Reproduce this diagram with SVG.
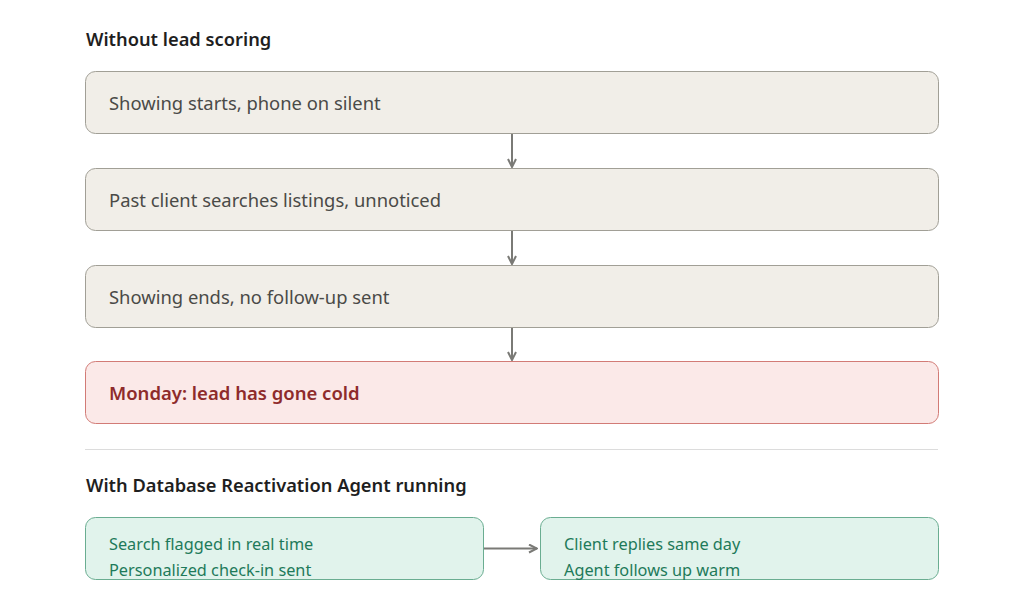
<svg xmlns="http://www.w3.org/2000/svg" width="1024" height="597" viewBox="0 0 1024 597">
<style>
.h{font-family:"Segoe UI","Noto Sans","Liberation Sans",sans-serif;font-size:18.3px;font-weight:600;fill:#1f1f1f}
.b{fill:#f1eee8;stroke:#a19f96;stroke-width:1}
.bt{font-family:"Segoe UI","Noto Sans","Liberation Sans",sans-serif;font-size:18.4px;fill:#4a4a47}
.r{fill:#fbe9e8;stroke:#d27b76;stroke-width:1}
.rt{font-family:"Segoe UI","Noto Sans","Liberation Sans",sans-serif;font-size:18.5px;font-weight:600;fill:#8e2b2b}
.g{fill:#e1f3ec;stroke:#6aad91;stroke-width:1}
.gt{font-family:"Segoe UI","Noto Sans","Liberation Sans",sans-serif;font-size:16.3px;fill:#1e7a5a}
.c{stroke:#7a7a76;stroke-width:2;fill:none}
</style>
<defs>
<marker id="ah" viewBox="0 0 10 10" refX="9" refY="5" markerWidth="10" markerHeight="10" markerUnits="userSpaceOnUse" orient="auto">
<path d="M1,1 L9,5 L1,9" fill="none" stroke="#7a7a76" stroke-width="2"/>
</marker>
</defs>
<rect width="1024" height="597" fill="#ffffff"/>
<text class="h" x="86" y="46">Without lead scoring</text>
<g id="n1"><rect class="b" x="85.5" y="71.5" width="853" height="62" rx="10"/><text class="bt" x="109" y="110">Showing starts, phone on silent</text></g>
<g id="n2"><rect class="b" x="85.5" y="168.5" width="853" height="62" rx="10"/><text class="bt" x="109" y="207">Past client searches listings, unnoticed</text></g>
<g id="n3"><rect class="b" x="85.5" y="265.5" width="853" height="62" rx="10"/><text class="bt" x="109" y="304">Showing ends, no follow-up sent</text></g>
<g id="n4"><rect class="r" x="85.5" y="361.5" width="853" height="62" rx="10"/><text class="rt" x="109" y="400">Monday: lead has gone cold</text></g>
<line x1="85" y1="449.5" x2="938" y2="449.5" stroke="#dcdcdc" stroke-width="1"/>
<text class="h" x="86" y="492">With Database Reactivation Agent running</text>
<g id="n5"><rect class="g" x="85.5" y="517.5" width="398" height="62" rx="10"/><text class="gt" x="109" y="550">Search flagged in real time</text><text class="gt" x="109" y="576">Personalized check-in sent</text></g>
<g id="n6"><rect class="g" x="540.5" y="517.5" width="398" height="62" rx="10"/><text class="gt" x="564" y="550">Client replies same day</text><text class="gt" x="564" y="576">Agent follows up warm</text></g>
<g id="connectors">
<line class="c" x1="512" y1="134" x2="512" y2="167" marker-end="url(#ah)"/>
<line class="c" x1="512" y1="231" x2="512" y2="264" marker-end="url(#ah)"/>
<line class="c" x1="512" y1="328" x2="512" y2="360" marker-end="url(#ah)"/>
<line class="c" x1="484" y1="548.5" x2="537" y2="548.5" marker-end="url(#ah)"/>
</g>
</svg>
